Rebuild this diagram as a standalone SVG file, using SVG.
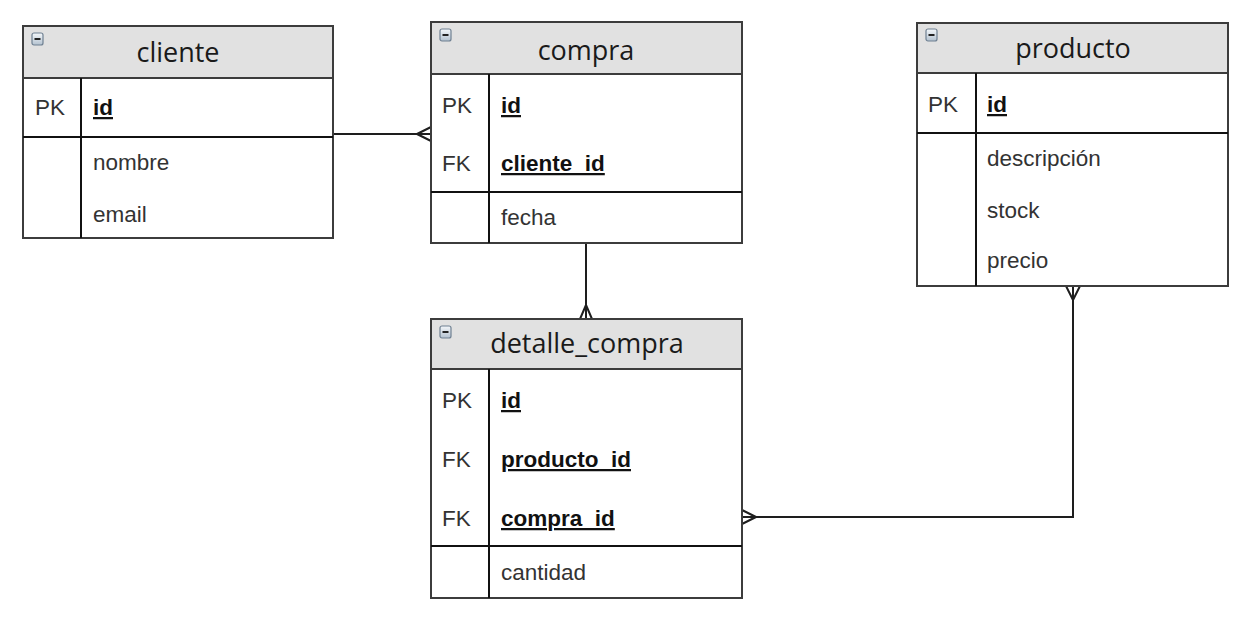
<svg xmlns="http://www.w3.org/2000/svg" width="1258" height="619" viewBox="0 0 1258 619">
<style>
.box{fill:#ffffff;stroke:#3c3c3c;stroke-width:2}
.hdr{fill:#e1e1e1;stroke:#3c3c3c;stroke-width:2}
.div{stroke:#111;stroke-width:2}
.title{font-family:"Open Sans","Noto Sans",sans-serif;font-size:27px;fill:#1a1a1a;text-anchor:middle}
.row{font-family:"Liberation Sans",Arial,sans-serif;font-size:22.5px;fill:#333}
.key{font-family:"Liberation Sans",Arial,sans-serif;font-size:22.5px;fill:#111;font-weight:bold;text-decoration:underline}
.conn{fill:none;stroke:#1e1e1e;stroke-width:2}
.ico{fill:url(#icog);stroke:#6f8092;stroke-width:1.2}
</style>
<defs>
<linearGradient id="icog" x1="0" y1="0" x2="0" y2="1">
<stop offset="0" stop-color="#f4f7fa"/>
<stop offset="1" stop-color="#b3c1cf"/>
</linearGradient>
<g id="icon">
<rect class="ico" x="0" y="0" width="11" height="12" rx="2"/>
<rect x="2.5" y="5" width="6" height="2" fill="#222"/>
</g>
</defs>

<g id="connectors">
<path class="conn" d="M333 134 H431 M417 134 L431 127 M417 134 L431 141"/>
<path class="conn" d="M586 243 V319 M586 305 L580 319 M586 305 L592 319"/>
<path class="conn" d="M1073 286 V517 H742 M1073 300 L1066 286 M1073 300 L1080 286 M756 517 L742 510 M756 517 L742 524"/>
</g>

<g id="cliente">
<rect class="box" x="23" y="26" width="310" height="212"/>
<rect class="hdr" x="23" y="26" width="310" height="52"/>
<use href="#icon" x="32" y="33"/>
<text class="title" x="178" y="62">cliente</text>
<line class="div" x1="81" y1="78" x2="81" y2="238"/>
<line class="div" x1="23" y1="137" x2="333" y2="137"/>
<text class="row" x="35" y="115">PK</text>
<text class="key" x="93" y="115">id</text>
<text class="row" x="93" y="170">nombre</text>
<text class="row" x="93" y="222">email</text>
</g>

<g id="compra">
<rect class="box" x="431" y="22" width="311" height="221"/>
<rect class="hdr" x="431" y="22" width="311" height="52"/>
<use href="#icon" x="440" y="29"/>
<text class="title" x="586" y="60">compra</text>
<line class="div" x1="489" y1="74" x2="489" y2="243"/>
<line class="div" x1="431" y1="192" x2="742" y2="192"/>
<text class="row" x="442" y="113">PK</text>
<text class="key" x="501" y="113">id</text>
<text class="row" x="442" y="171">FK</text>
<text class="key" x="501" y="171">cliente_id</text>
<text class="row" x="501" y="225">fecha</text>
</g>

<g id="producto">
<rect class="box" x="917" y="23" width="311" height="263"/>
<rect class="hdr" x="917" y="23" width="311" height="50"/>
<use href="#icon" x="926" y="29"/>
<text class="title" x="1073" y="58">producto</text>
<line class="div" x1="976" y1="73" x2="976" y2="286"/>
<line class="div" x1="917" y1="133" x2="1228" y2="133"/>
<text class="row" x="928" y="112">PK</text>
<text class="key" x="987" y="112">id</text>
<text class="row" x="987" y="166">descripción</text>
<text class="row" x="987" y="218">stock</text>
<text class="row" x="987" y="268">precio</text>
</g>

<g id="detalle_compra">
<rect class="box" x="431" y="319" width="311" height="279"/>
<rect class="hdr" x="431" y="319" width="311" height="50"/>
<use href="#icon" x="440" y="326"/>
<text class="title" x="587" y="353">detalle_compra</text>
<line class="div" x1="489" y1="369" x2="489" y2="598"/>
<line class="div" x1="431" y1="546" x2="742" y2="546"/>
<text class="row" x="442" y="408">PK</text>
<text class="key" x="501" y="408">id</text>
<text class="row" x="442" y="467">FK</text>
<text class="key" x="501" y="467">producto_id</text>
<text class="row" x="442" y="526">FK</text>
<text class="key" x="501" y="526">compra_id</text>
<text class="row" x="501" y="580">cantidad</text>
</g>
</svg>
